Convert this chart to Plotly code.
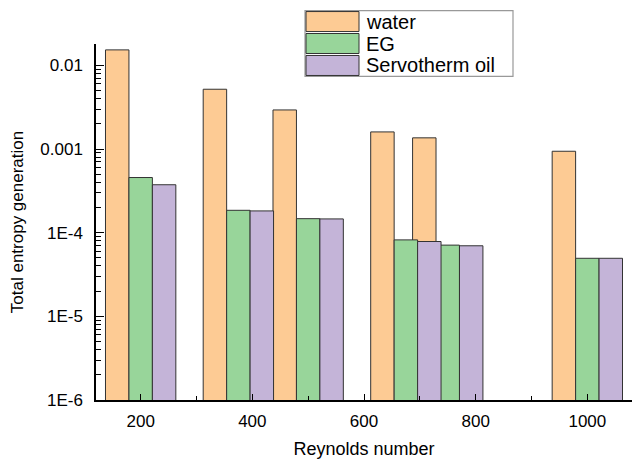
import plotly.graph_objects as go

# ---- data ----
reynolds = [200, 375, 500, 675, 750, 1000]
water = [0.0153, 0.00518, 0.00293, 0.00160, 0.00136, 0.00094]
eg = [4.56e-4, 1.85e-4, 1.47e-4, 8.2e-5, 7.1e-5, 4.94e-5]
oil = [3.74e-4, 1.82e-4, 1.46e-4, 7.84e-5, 6.97e-5, 4.94e-5]
series_names = ["water", "EG", "Servotherm oil"]
y_tick_vals = [1e-6, 1e-5, 1e-4, 1e-3, 1e-2]
y_tick_text = ["1E-6", "1E-5", "1E-4", "0.001", "0.01"]

colors = ["#FDCB94", "#98D59A", "#C4B4D8"]
edge = "#333333"
FONT = "Liberation Sans, Arial, sans-serif"

W, H = 637, 461
L, R, T, B = 96, 5, 44, 55
pw, ph = W - L - R, H - T - B

def px_x(x):
    return (x - L) / pw

def px_y(y):
    return (H - B - y) / ph

fig = go.Figure()
bar_w = 42
offsets = [-63, -21, 21]
for name, vals, col, off in zip(series_names, [water, eg, oil], colors, offsets):
    fig.add_trace(go.Bar(
        x=reynolds, y=vals, name=name, width=bar_w, offset=off,
        marker=dict(color=col, line=dict(color=edge, width=1)),
        showlegend=False,
    ))

minor_vals = [m * 10.0 ** e for e in range(-6, -1) for m in range(2, 10)]

fig.update_layout(
    width=W, height=H,
    margin=dict(l=L, r=R, t=T, b=B),
    paper_bgcolor="white", plot_bgcolor="white",
    barmode="overlay",
    font=dict(family=FONT, color="black"),
    xaxis=dict(
        range=[120, 1080], tick0=0, dtick=200,
        showline=True, linecolor="black", linewidth=1.5,
        ticks="inside", ticklen=6, tickwidth=1.2, tickcolor="black",
        minor=dict(tick0=0, dtick=100, ticks="inside", ticklen=4, tickcolor="black", tickwidth=1.2),
        showgrid=False, zeroline=False,
        tickfont=dict(size=17, family=FONT),
        ticklabelstandoff=5,
        title=dict(text="Reynolds number", font=dict(size=18, family=FONT), standoff=12),
    ),
    yaxis=dict(
        type="log", range=[-6, -1.745],
        tickmode="array", tickvals=y_tick_vals, ticktext=y_tick_text,
        showline=True, linecolor="black", linewidth=1.5,
        ticks="inside", ticklen=8, tickwidth=1.2, tickcolor="black",
        minor=dict(tickmode="array", tickvals=minor_vals, ticks="inside",
                   ticklen=5, tickcolor="black", tickwidth=1),
        showgrid=False, zeroline=False,
        tickfont=dict(size=17, family=FONT),
        ticklabelstandoff=8,
        title=dict(text="Total entropy generation", font=dict(size=17, family=FONT), standoff=12),
    ),
)

# ---- legend box (custom, to match large swatches) ----
box_l, box_r, box_t, box_b = 305, 513, 10, 77
fig.add_shape(type="rect", xref="paper", yref="paper",
              x0=px_x(box_l), x1=px_x(box_r), y0=px_y(box_b), y1=px_y(box_t),
              line=dict(color="#999999", width=1.2), fillcolor="white", layer="above")
row_h = (box_b - box_t) / 3
for i, (name, col) in enumerate(zip(series_names, colors)):
    y0 = box_t + i * row_h + 1
    y1 = box_t + (i + 1) * row_h - 1
    fig.add_shape(type="rect", xref="paper", yref="paper",
                  x0=px_x(box_l + 1), x1=px_x(359), y0=px_y(y1), y1=px_y(y0),
                  line=dict(color=edge, width=1), fillcolor=col, layer="above")
    fig.add_annotation(xref="paper", yref="paper", x=px_x(364), y=px_y((y0 + y1) / 2),
                       text=name, showarrow=False, xanchor="left", yanchor="middle",
                       font=dict(size=20, family=FONT, color="black"))

fig.write_html("out.html")
